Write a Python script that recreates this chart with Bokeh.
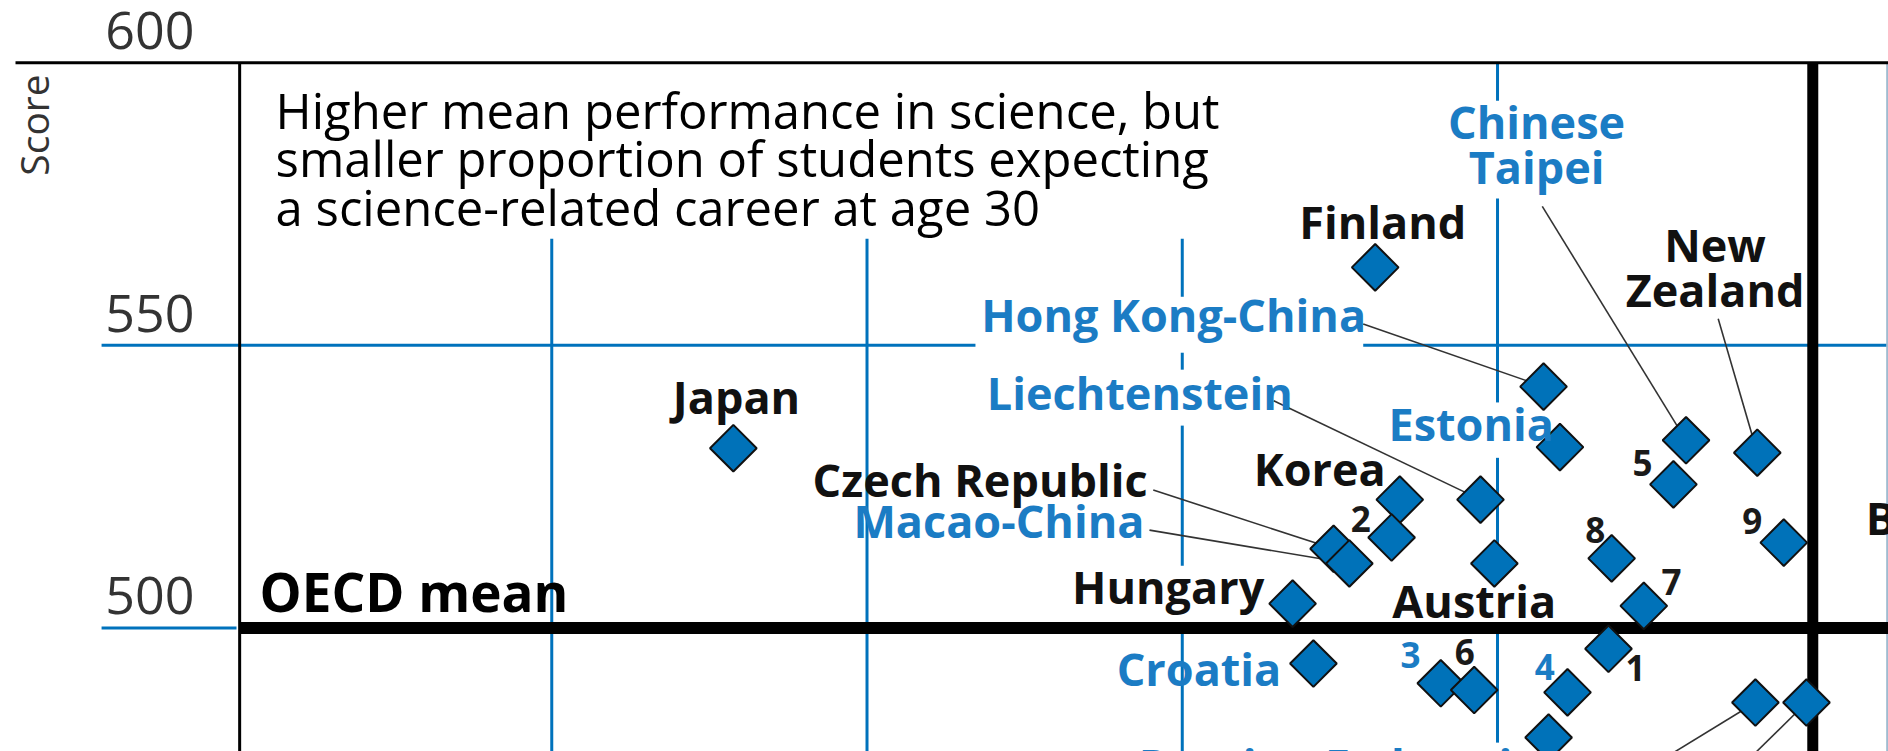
import numpy as np
from bokeh.plotting import figure
from bokeh.models import ColumnDataSource, Range1d
from bokeh.embed import file_html
from bokeh.resources import INLINE
from bokeh.core.properties import value

# ---------------- data ----------------
countries = ["Finland", "Japan", "Hong Kong-China", "Estonia", "Chinese Taipei",
             "New Zealand", "5", "Korea", "Liechtenstein", "2", "Czech Republic",
             "Macao-China", "Austria", "8", "9", "7", "Hungary", "1", "Croatia",
             "3", "6", "4", "Russian Federation", "a", "b"]
pct_science_career = [18.06, 7.88, 20.73, 20.99, 22.99,
                      24.12, 22.79, 18.45, 19.73, 18.32, 17.40,
                      17.65, 19.95, 21.81, 24.54, 22.32, 16.75, 21.76, 17.08,
                      19.10, 19.63, 21.11, 20.81, 24.09, 24.90]
science_score = [563.8, 531.8, 542.7, 532.0, 533.2,
                 531.0, 525.4, 522.7, 522.7, 516.0, 514.0,
                 511.4, 511.4, 512.3, 515.1, 503.9, 504.3, 496.3, 493.7,
                 490.2, 489.0, 488.6, 480.6, 486.8, 486.8]

y_ticks = [600, 550, 500]
y_tick_labels = ["600", "550", "500"]
x_grid = [5, 10, 15, 20]
oecd_mean_score = 500
oecd_mean_pct = 25
note_lines = ["Higher mean performance in science, but",
              "smaller proportion of students expecting",
              "a science-related career at age 30"]

# label placement (annotation layout, baselines)
oecd_labels = ["Finland", "New", "Zealand", "Japan", "Czech Republic", "Korea",
               "Hungary", "Austria", "Belgium"]
oecd_lx = [18.18, 23.45, 23.45, 7.93, 14.45, 17.18, 16.30, 19.63, 25.84]
oecd_ly = [569.1, 565.0, 557.1, 538.2, 523.4, 525.5, 504.5, 502.0, 516.7]
oecd_align = ["center", "center", "center", "center", "right", "center",
              "right", "center", "left"]

partner_labels = ["Chinese", "Taipei", "Hong Kong-China", "Liechtenstein",
                  "Estonia", "Macao-China", "Croatia", "Russian Federation"]
partner_lx = [20.62, 20.62, 11.81, 11.90, 18.27, 14.40, 16.57, 14.31]
partner_ly = [586.8, 578.9, 552.6, 538.9, 533.3, 516.3, 490.1, 473.0]
partner_align = ["center", "center", "left", "left", "left", "right",
                 "right", "left"]

num_labels = ["2", "5", "8", "9", "7", "1", "6", "3", "4"]
num_lx = [17.83, 22.30, 21.55, 24.04, 22.76, 22.19, 19.48, 18.62, 20.75]
num_ly = [517.1, 527.0, 515.2, 516.7, 506.0, 490.7, 493.6, 493.0, 491.0]
num_color = ["#1a1a1a"] * 7 + ["#1b7cc4"] * 2

leader_country = ["Hong Kong-China", "Chinese Taipei", "New Zealand",
                  "Liechtenstein", "Czech Republic", "Macao-China", "a", "b"]
leader_x0 = [17.87, 20.71, 23.50, 16.45, 14.54, 14.48, 21.63, 23.37]
leader_y0 = [553.8, 574.6, 554.7, 540.2, 524.4, 517.3, 470.0, 470.0]

# ---------------- figure ----------------
BLUE = "#0072bc"
TXT_BLUE = "#1b7cc4"
FONT = value("Open Sans")
PX_PER_UNIT = 5.65


def baseline(ys, fs):
    # compensate the renderer's baseline placement (about 0.35 em low)
    return [y + 0.35 * fs / PX_PER_UNIT for y in ys]


p = figure(width=1888, height=751, output_backend="svg", toolbar_location=None,
           x_range=Range1d(-3.743, 26.201), y_range=Range1d(478.13, 611.03),
           x_axis_location=None, y_axis_location=None, min_border=0)
p.grid.visible = False
p.outline_line_color = None
p.background_fill_color = "white"

lo, hi = 470, 600
# blue vertical grid lines (interrupted where labels sit)
gx = [[x_grid[0]] * 2, [x_grid[1]] * 2,
      [x_grid[2]] * 2, [x_grid[2]] * 2, [x_grid[2]] * 2, [x_grid[2]] * 2,
      [x_grid[3]] * 2, [x_grid[3]] * 2, [x_grid[3]] * 2, [x_grid[3]] * 2]
gy = [[568.85, lo], [568.85, lo],
      [568.85, 558.6], [548.7, 545.7], [535.8, 511.0], [499.0, lo],
      [hi, 593.3], [576.0, 539.9], [530.1, 508.0], [499.0, 479.7]]
p.multi_line(gx, gy, line_color=BLUE, line_width=3)

# blue horizontal lines
p.multi_line([[-2.14, 11.72], [17.87, 26.5], [-2.14, 0]],
             [[y_ticks[1]] * 2, [y_ticks[1]] * 2, [y_ticks[2]] * 2],
             line_color=BLUE, line_width=3)
# faint right edge line
p.segment(x0=[26.18], y0=[lo], x1=[26.18], y1=[hi], line_color="#9fbbd0", line_width=2)

# black frame lines
p.segment(x0=[-3.505], y0=[y_ticks[0]], x1=[26.5], y1=[y_ticks[0]], line_color="black", line_width=3)
p.segment(x0=[0.05], y0=[hi], x1=[0.05], y1=[lo], line_color="black", line_width=3)
p.segment(x0=[oecd_mean_pct], y0=[hi], x1=[oecd_mean_pct], y1=[lo], line_color="black", line_width=11)
p.segment(x0=[0.05], y0=[oecd_mean_score], x1=[26.5], y1=[oecd_mean_score], line_color="black", line_width=12)

# leader lines
idx = {c: i for i, c in enumerate(countries)}
p.segment(x0=leader_x0, y0=leader_y0,
          x1=[pct_science_career[idx[c]] for c in leader_country],
          y1=[science_score[idx[c]] for c in leader_country],
          line_color="#333333", line_width=1.6)

# diamonds
src = ColumnDataSource(dict(x=pct_science_career, y=science_score, name=countries))
p.scatter("x", "y", source=src, marker="square", angle=np.pi / 4, size=33,
          fill_color="#0072b9", line_color="#111111", line_width=2)

# y tick labels (baseline ~14 px above each line) and axis title
p.text(x=[-2.08] * 3, y=baseline([t + 14 / PX_PER_UNIT for t in y_ticks], 52),
       text=y_tick_labels,
       text_font=FONT, text_font_size="52px", text_color="#333333",
       text_align="left", text_baseline="alphabetic")
p.text(x=[-3.22], y=[589.0], text=["Score"], angle=np.pi / 2,
       text_font=FONT, text_font_size="39px", text_color="#333333",
       text_align="center", text_baseline="middle")

# note
p.text(x=[0.62] * 3, y=baseline([588.6, 580.1, 571.5], 49), text=note_lines,
       text_font=FONT, text_font_size="49px", text_color="black",
       text_align="left", text_baseline="alphabetic")
p.text(x=[0.365], y=baseline([503.1], 53), text=["OECD mean"],
       text_font=FONT, text_font_size="53px", text_font_style="bold",
       text_color="black", text_align="left", text_baseline="alphabetic")

# country labels
p.text(x="x", y="y", text="t", text_align="a",
       source=ColumnDataSource(dict(x=oecd_lx, y=baseline(oecd_ly, 45), t=oecd_labels, a=oecd_align)),
       text_font=FONT, text_font_size="45px", text_font_style="bold",
       text_color="#111111", text_baseline="alphabetic")
p.text(x="x", y="y", text="t", text_align="a",
       source=ColumnDataSource(dict(x=partner_lx, y=baseline(partner_ly, 45), t=partner_labels, a=partner_align)),
       text_font=FONT, text_font_size="45px", text_font_style="bold",
       text_color=TXT_BLUE, text_baseline="alphabetic")
p.text(x="x", y="y", text="t", text_color="c",
       source=ColumnDataSource(dict(x=num_lx, y=baseline(num_ly, 35), t=num_labels, c=num_color)),
       text_font=FONT, text_font_size="35px", text_font_style="bold",
       text_align="center", text_baseline="alphabetic")

open("out.html", "w").write(file_html(p, INLINE))
